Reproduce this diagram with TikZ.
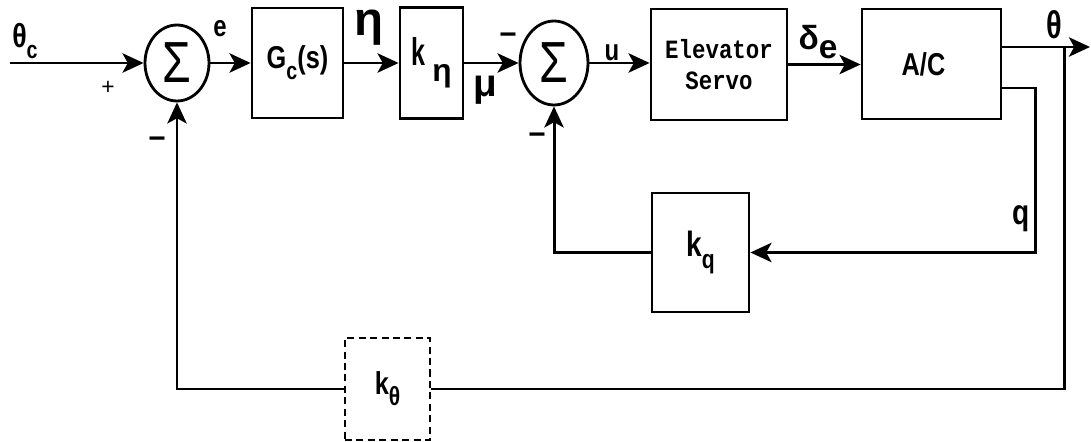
\documentclass[tikz,border=0pt]{standalone}
\usepackage{fontspec}
\setmainfont{Liberation Sans}
\newfontfamily\servofont{Liberation Mono}
\usetikzlibrary{arrows.meta,shapes.geometric}
\newcommand{\lowsub}[2][11]{\raisebox{-0.35em}{\fontsize{#1}{#1}\selectfont #2}}
\newcommand{\fsz}[1]{\fontsize{#1}{#1}\selectfont\bfseries}
\newcommand{\nar}[2][0.8]{\scalebox{#1}[1]{#2}}
\tikzset{
  blk/.style={draw, line width=1.6pt, rectangle, inner sep=0pt, font=\fsz{18}},
  sumnode/.style={draw, line width=1.6pt, ellipse, inner sep=0pt, font=\fontsize{33}{33}\selectfont},
  arr/.style={line width=1.7pt, -{Stealth[length=12pt,width=11pt,inset=3pt]}},
  wire/.style={line width=1.7pt},
  lbl/.style={inner sep=0pt, font=\fsz{17}},
  dashblk/.style={draw, line width=1.1pt, dash pattern=on 4pt off 2.5pt, rectangle, inner sep=0pt, font=\fsz{18}}
}
\begin{document}
\begin{tikzpicture}[x=0.02cm,y=-0.02cm]
\useasboundingbox (0,0) rectangle (1091,442);
% forward path
\coordinate (in) at (10,63);
\node[sumnode, minimum width=1.28cm, minimum height=1.52cm] (s1) at (177,63) {\nar{Σ}};
\node[blk, minimum width=1.82cm, minimum height=2.2cm] (gc) at (297.5,63) {\nar{G\lowsub[14]{c}(s)}};
\node[blk, minimum width=1.26cm, minimum height=2.22cm] (keta) at (431.5,63)
  {\smash{\raisebox{-1.4pt}{\fsz{22}\nar[0.65]{k}}}\hspace{4pt}\smash{\raisebox{-10.8pt}{η}}};
\node[sumnode, minimum width=1.36cm, minimum height=1.68cm] (s2) at (554,63) {\nar{Σ}};
\node[blk, minimum width=2.72cm, minimum height=2.22cm, align=center, font=\servofont\bfseries\fontsize{15}{18}\selectfont] (servo) at (719,64.5) {\nar[0.85]{Elevator}\\\nar[0.85]{Servo}};
\node[blk, minimum width=2.78cm, minimum height=2.2cm] (ac) at (931.5,64) {\nar{A/C}\hspace*{0.32cm}};
% feedback blocks
\node[blk, minimum width=1.94cm, minimum height=2.38cm, font=\fsz{20}] (kq) at (700.5,252.5) {\nar{k\lowsub[15]{q}}};
\node[dashblk, minimum width=1.7cm, minimum height=2.04cm] (kt) at (387.5,389) {\nar{k\lowsub[15]{θ}}};
% labels
\node[lbl, font=\fsz{19}] (thc) at (25,41) {\nar{θ\lowsub[14]{c}}};
\node[lbl, font=\fontsize{13}{13}\selectfont] (plus) at (108,88) {+};
\node[lbl] (m1) at (157,143) {−};
\node[lbl] (le) at (220,29) {\nar{e}};
\node[lbl, font=\fsz{27}] (leta) at (369,28) {η};
\node[lbl, font=\fsz{22}] (lmu) at (485,90) {μ};
\node[lbl] (m2) at (508,39) {−};
\node[lbl] (m3) at (537,139) {−};
\node[lbl] (lu) at (612,53) {\nar{u}};
\node[lbl, font=\fsz{19}] (lde) at (818,42) {δ\raisebox{-0.25em}{e}};
\node[lbl, font=\fsz{22}] (lth) at (1054,25) {\nar[0.75]{θ}};
\node[lbl, font=\fsz{20}] (lq) at (1021,219) {\nar{q}};
% connectors
\draw[arr] (in) -- (s1.west);
\draw[arr] (s1.east) -- (s1.east -| gc.west);
\draw[arr] (gc.east) -- (gc.east -| keta.west);
\draw[arr] (keta.east) -- (keta.east -| s2.west);
\draw[arr] (s2.east) -- (s2.east -| servo.west);
\draw[arr] (servo.east) -- (servo.east -| ac.west);
\coordinate (thout) at (1090,47);
\coordinate (j) at (1064,47);
\draw[arr] (ac.east |- thout) -- (thout);
\coordinate (qx) at (1035,88);
\draw[arr] (ac.east |- qx) -- (qx) |- (kq.east);
\draw[arr] (kq.west) -| (s2.south);
\draw[wire] (j) |- (kt.east);
\draw[arr] (kt.west) -| (s1.south);
\end{tikzpicture}
\end{document}
